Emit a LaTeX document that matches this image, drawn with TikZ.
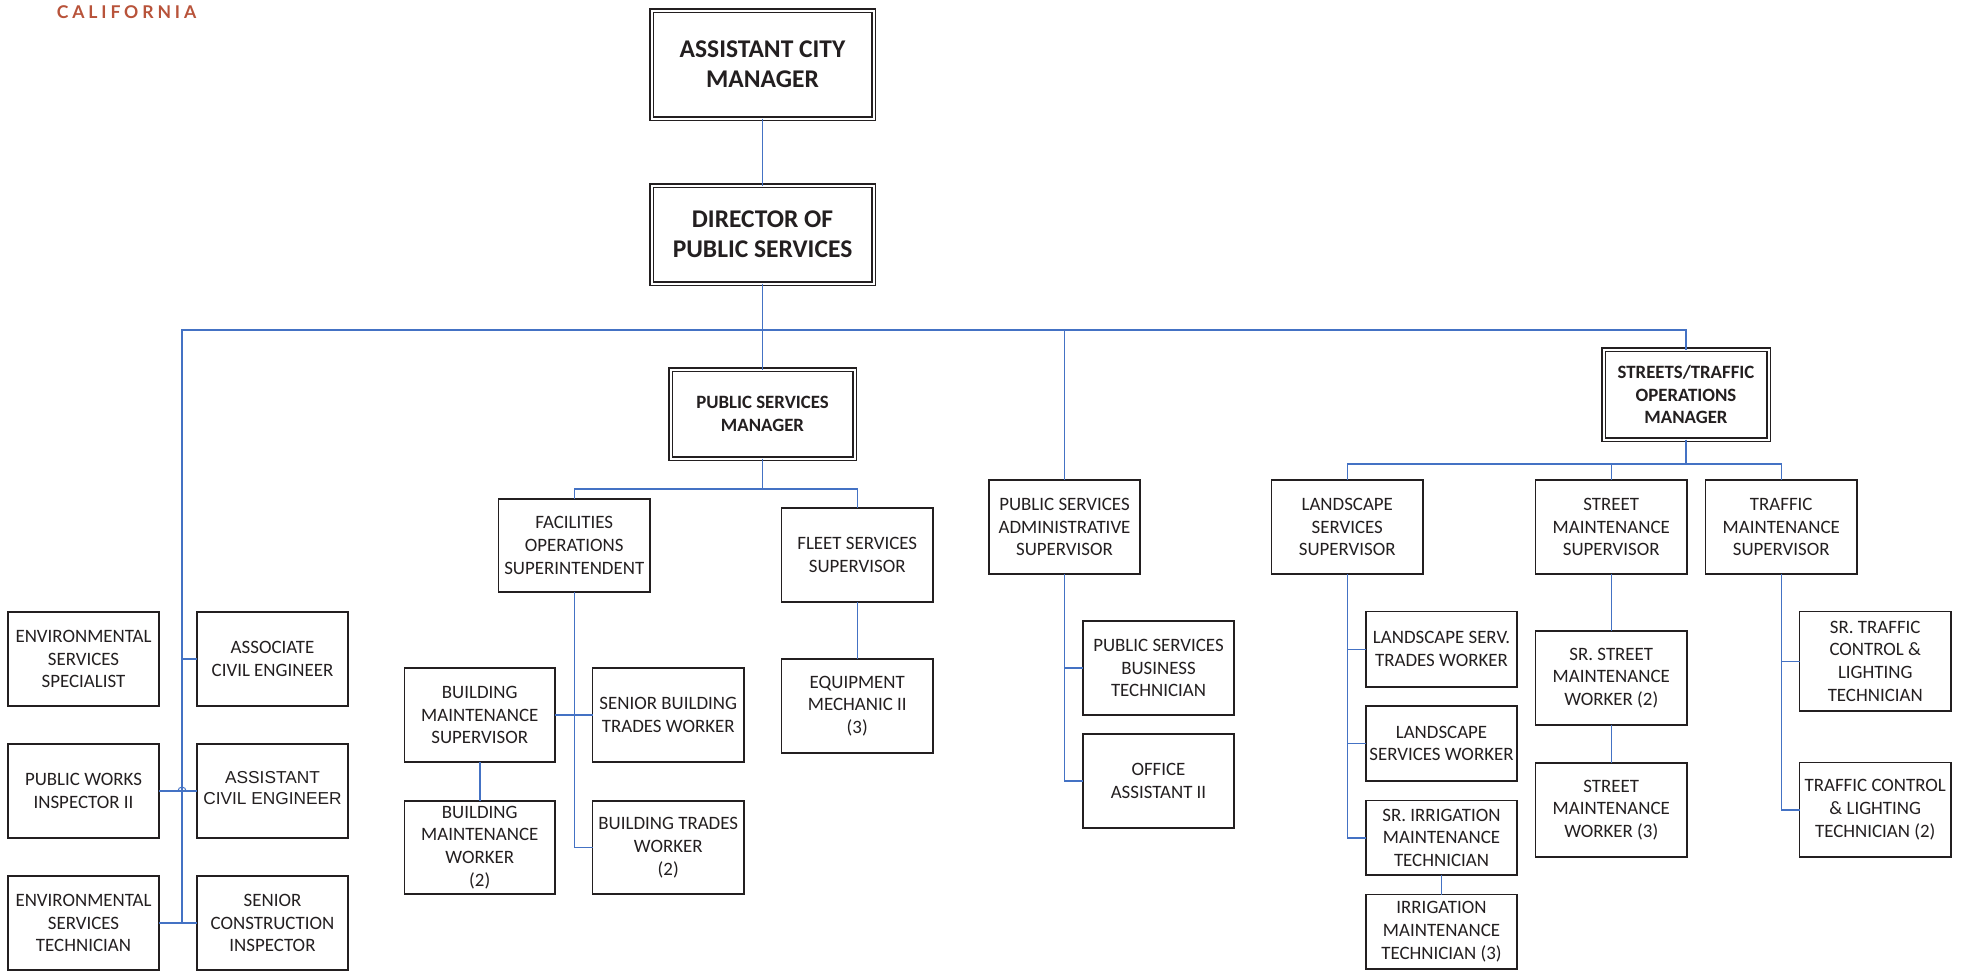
\documentclass[tikz,border=0pt]{standalone}
\usepackage{fontspec}
\setmainfont{Carlito}
\newfontfamily\arialf{Liberation Sans}
\newfontfamily\logof[LetterSpace=22]{Lato}
\usetikzlibrary{calc}
\definecolor{conn}{HTML}{4472C4}
\definecolor{ink}{HTML}{231F20}
\definecolor{logored}{HTML}{B8533A}
\tikzset{
  every node/.style={text=ink,inner sep=0pt,outer sep=0pt,align=center},
  nbox/.style={draw=ink,line width=1.2pt,fill=white,font={\fontsize{18.9}{22.7}\selectfont}},
  dbl/.style={draw=ink,line width=1.4pt,double=white,double distance=2pt,fill=white},
  headA/.style={dbl,font={\fontsize{25.5}{30}\selectfont\bfseries}},
  headB/.style={dbl,font={\fontsize{18.8}{22.7}\selectfont\bfseries}},
  link/.style={draw=conn,line width=1.5pt},
}
\newcommand{\bx}[6][nbox]{\node[#1,minimum width={(#4-#2)*1pt},minimum height={(#5-#3)*1pt}] (#6) at ({(#2+#4)/2},{(#3+#5)/2})}
\begin{document}
\begin{tikzpicture}[x=1pt,y=-1pt]
\useasboundingbox (0,0) rectangle (1963,972);
\node[font={\fontsize{17.6}{18}\logof\bfseries},text=logored] (logo) at (126.5,12.5) {CALIFORNIA};
% connector hubs
\coordinate (bar) at (0,330);
\coordinate (psbar) at (0,489);
\coordinate (stbar) at (0,464);
\coordinate (wbus) at (182,922);
\coordinate (hopL) at (178,791);
% boxes
\bx[headA]{651.5}{10.5}{873.5}{118.5}{acm} {ASSISTANT CITY\\MANAGER};
\bx[headA]{651.5}{185.5}{873.5}{283.5}{dir} {DIRECTOR OF\\PUBLIC SERVICES};
\bx[headB]{670.5}{369.5}{854.5}{458.5}{psm} {PUBLIC SERVICES\\MANAGER};
\bx[headB]{1603.5}{349.5}{1768.5}{439.5}{stm} {STREETS/TRAFFIC\\OPERATIONS\\MANAGER};
\bx{8}{612}{159}{706}{ess} {ENVIRONMENTAL\\SERVICES\\SPECIALIST};
\bx{197}{612}{348}{706}{ace} {ASSOCIATE\\CIVIL ENGINEER};
\bx{8}{744}{159}{838}{pwi} {PUBLIC WORKS\\INSPECTOR II};
\bx[nbox,font={\arialf\fontsize{17.3}{21}\selectfont}]{197}{744}{348}{838}{asce} {ASSISTANT\\CIVIL ENGINEER\\[-15pt]\mbox{}};
\bx{8}{876}{159}{970}{est} {ENVIRONMENTAL\\SERVICES\\TECHNICIAN};
\bx{197}{876}{348}{970}{sci} {SENIOR\\CONSTRUCTION\\INSPECTOR};
\bx{498.5}{499}{650}{592}{fos} {FACILITIES\\OPERATIONS\\SUPERINTENDENT};
\bx{781.5}{508}{933}{602}{fss} {FLEET SERVICES\\SUPERVISOR};
\bx{781.5}{659}{933}{753}{em} {EQUIPMENT\\MECHANIC II\\(3)};
\bx{404.5}{668}{555}{762}{bms} {BUILDING\\MAINTENANCE\\SUPERVISOR};
\bx{404.5}{801}{555}{894}{bmw} {BUILDING\\MAINTENANCE\\WORKER\\(2)};
\bx{592.5}{668}{744}{762}{sbt} {SENIOR BUILDING\\TRADES WORKER};
\bx{592.5}{801}{744}{894}{btw} {BUILDING TRADES\\WORKER\\(2)};
\bx{989}{480}{1140}{574}{psa} {PUBLIC SERVICES\\ADMINISTRATIVE\\SUPERVISOR};
\bx{1083}{621}{1234}{715}{psb} {PUBLIC SERVICES\\BUSINESS\\TECHNICIAN};
\bx{1083}{734}{1234}{828}{oa} {OFFICE\\ASSISTANT II};
\bx{1271.5}{480}{1423}{574}{lss} {LANDSCAPE\\SERVICES\\SUPERVISOR};
\bx{1535.5}{480}{1687}{574}{sms} {STREET\\MAINTENANCE\\SUPERVISOR};
\bx{1705.5}{480}{1857}{574}{tms} {TRAFFIC\\MAINTENANCE\\SUPERVISOR};
\bx{1366}{611.5}{1517}{687}{lst} {LANDSCAPE SERV.\\TRADES WORKER};
\bx{1366}{706}{1517}{781}{lsw} {LANDSCAPE\\SERVICES WORKER};
\bx{1366}{800.5}{1517}{875}{sim} {SR. IRRIGATION\\MAINTENANCE\\TECHNICIAN};
\bx{1366}{894.5}{1517}{969}{imt} {IRRIGATION\\MAINTENANCE\\TECHNICIAN (3)};
\bx{1535.5}{631}{1687}{725}{ssm} {SR. STREET\\MAINTENANCE\\WORKER (2)};
\bx{1535.5}{763}{1687}{857}{smw} {STREET\\MAINTENANCE\\WORKER (3)};
\bx{1799.5}{611.5}{1951}{711}{stc} {SR. TRAFFIC\\CONTROL \&\\LIGHTING\\TECHNICIAN};
\bx{1799.5}{762.5}{1951}{857}{tcl} {TRAFFIC CONTROL\\\& LIGHTING\\TECHNICIAN (2)};
% connectors
\draw[link] (acm) -- (dir);
\draw[link] (dir) -- (psm);
\draw[link] (wbus) |- (bar -| dir.south) -- (bar -| stm) -- (stm);
\draw[link] (bar -| psa) -- (psa);
\draw[link] (ace.west) -- (wbus |- ace.west);
\draw[link] (pwi.east) -- (asce.west);
\draw[link,line width=1pt] (hopL) arc[start angle=180,end angle=0,radius=4pt];
\draw[link] (est.east) -- (sci.west);
\draw[link] (psm) -- (psbar -| psm);
\draw[link] (fos) |- (psbar -| psm) -| (fss);
\draw[link] (fss) -- (em);
\draw[link] (fos.south) -- (fos.south |- btw.west) -- (btw.west);
\draw[link] (bms.east) -- (sbt.west);
\draw[link] (bms) -- (bmw);
\draw[link] (psa.south) -- (psa.south |- oa.west) -- (oa.west);
\draw[link] (psa.south |- psb.west) -- (psb.west);
\draw[link] (stm) -- (stbar -| stm);
\draw[link] (lss) |- (stbar -| tms) -- (tms);
\draw[link] (stbar -| sms) -- (sms);
\draw[link] (lss.south) -- (lss.south |- sim.west) -- (sim.west);
\draw[link] (lss.south |- lst.west) -- (lst.west);
\draw[link] (lss.south |- lsw.west) -- (lsw.west);
\draw[link] (sim) -- (imt);
\draw[link] (sms) -- (ssm);
\draw[link] (ssm) -- (smw);
\draw[link] (tms.south) -- (tms.south |- tcl.west) -- (tcl.west);
\draw[link] (tms.south |- stc.west) -- (stc.west);
\end{tikzpicture}
\end{document}
